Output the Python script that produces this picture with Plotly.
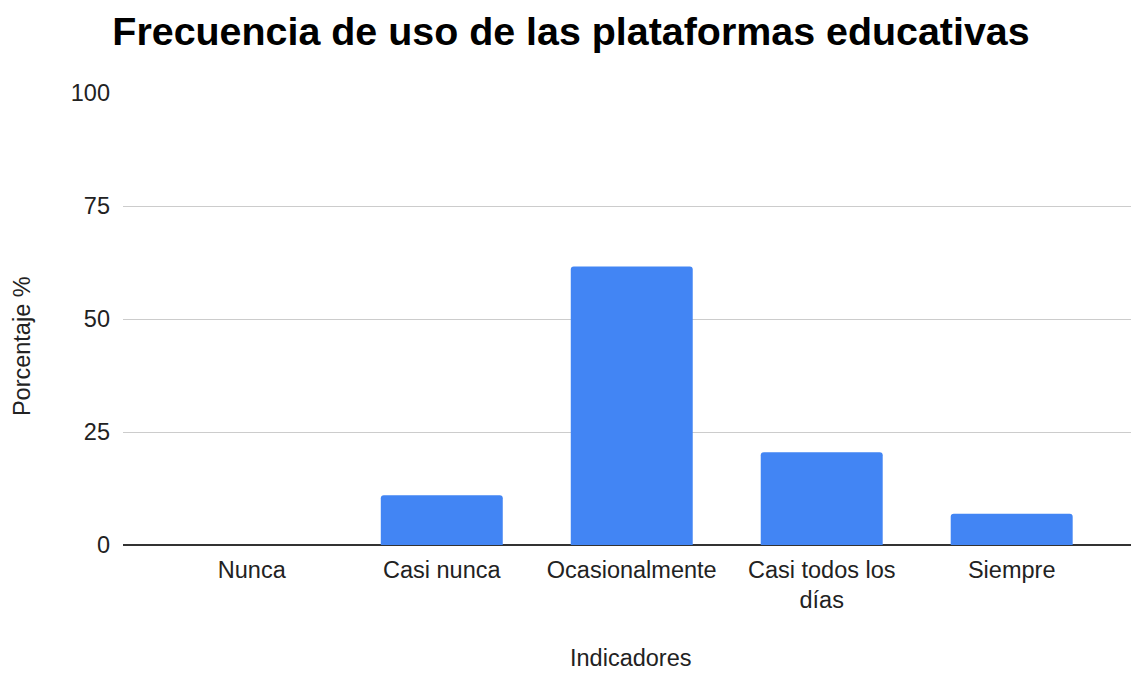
import plotly.graph_objects as go

# Survey results: how often students use educational platforms
indicadores = ["Nunca", "Casi nunca", "Ocasionalmente", "Casi todos los<br>días", "Siempre"]
porcentajes = [0, 11.0, 61.6, 20.5, 6.9]
y_ticks = [0, 25, 50, 75, 100]

FONT = "Liberation Sans, Arial, sans-serif"
TEXT = "#222222"
LABEL_SIZE = 23.5

fig = go.Figure(
    go.Bar(
        x=indicadores,
        y=porcentajes,
        marker=dict(color="#4285F4", cornerradius=3, line=dict(width=0)),
        hoverinfo="x+y",
    )
)

fig.update_layout(
    width=1131,
    height=674,
    margin=dict(l=123, r=0, t=93, b=129),
    paper_bgcolor="white",
    plot_bgcolor="white",
    bargap=0.358,
    showlegend=False,
    font=dict(family=FONT, size=LABEL_SIZE, color=TEXT),
    title=dict(
        text="<b>Frecuencia de uso de las plataformas educativas</b>",
        font=dict(family=FONT, size=39.4, color="#000000"),
        x=571 / 1131,
        xanchor="center",
        xref="container",
        y=1 - 31.5 / 674,
        yanchor="middle",
        yref="container",
    ),
    annotations=[
        # axis titles
        dict(
            text="Indicadores",
            xref="paper", yref="paper",
            x=0.5035, y=-0.2505,
            xanchor="center", yanchor="middle",
            borderpad=0,
            showarrow=False,
            font=dict(family=FONT, size=LABEL_SIZE, color=TEXT),
        ),
        dict(
            text="Porcentaje %",
            xref="paper", yref="paper",
            x=-0.1002, y=0.440,
            xanchor="center", yanchor="middle",
            textangle=-90,
            borderpad=0,
            showarrow=False,
            font=dict(family=FONT, size=LABEL_SIZE, color=TEXT),
        ),
    ],
)

fig.update_xaxes(
    type="category",
    range=[-0.678, 4.628],
    showgrid=False,
    showline=False,
    zeroline=False,
    ticks="",
    ticklabelstandoff=8,
    tickfont=dict(size=LABEL_SIZE, color=TEXT),
)

fig.update_yaxes(
    range=[0, 100],
    tickvals=y_ticks,
    showgrid=True,
    gridcolor="#CCCCCC",
    gridwidth=1.3,
    zeroline=True,
    zerolinecolor="#333333",
    zerolinewidth=1.6,
    showline=False,
    ticks="",
    ticklabelstandoff=12,
    tickfont=dict(size=LABEL_SIZE, color=TEXT),
)

fig.write_html("out.html")
